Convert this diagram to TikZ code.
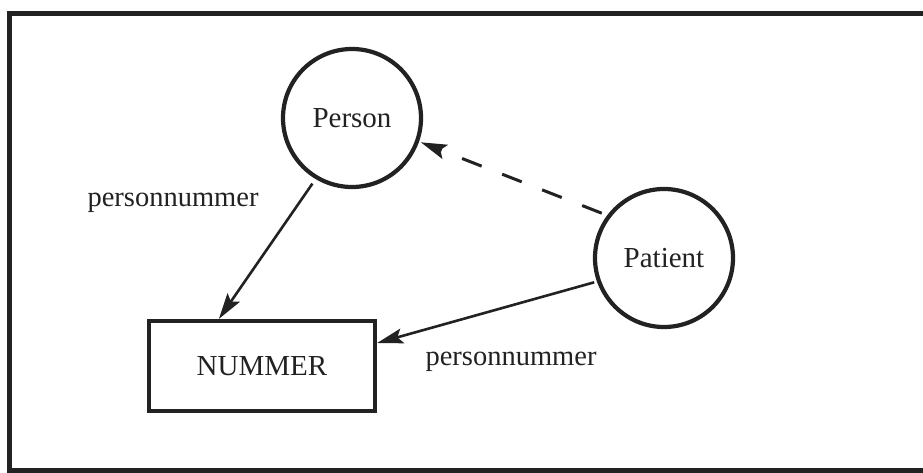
\documentclass[tikz,border=0pt]{standalone}
\usepackage{fontspec}
\setmainfont{Liberation Serif}
\usetikzlibrary{arrows.meta}
\definecolor{ink}{HTML}{222222}
\begin{document}
\begin{tikzpicture}[x=1pt,y=-1pt,
  entity/.style={circle,draw=ink,line width=4.2pt,minimum size=138pt,inner sep=0pt,
    font=\fontsize{29}{34}\selectfont,text=ink},
  table/.style={rectangle,draw=ink,line width=4.2pt,minimum width=226pt,minimum height=90pt,
    inner sep=0pt,font=\fontsize{29}{34}\selectfont,text=ink},
  label/.style={font=\fontsize{28.5}{34}\selectfont,text=ink,inner sep=0pt},
  link/.style={draw=ink,line width=2.6pt,-{Stealth[length=26pt,width=15pt,inset=5pt]}},
  isa/.style={link,line width=3pt,dash pattern=on 21pt off 22pt}]
  \useasboundingbox (0,0) rectangle (923,473);
  \fill[white] (0,0) rectangle (923,473);
  % open frame: top, left and bottom rules
  \draw[ink,line width=5pt] (923,14) -- (9,14) -- (9,470) -- (923,470);

  \node[entity] (person) at (352,118) {Person};
  \node[entity] (patient) at (664,258) {Patient};
  \node[table] (nummer) at (262,366) {NUMMER};

  \node[label,anchor=base] (lab1) at (173,207) {personnummer};
  \node[label,anchor=base] (lab2) at (511,365) {personnummer};

  \draw[link] ([shift={(-4pt,-4pt)}]person.240) -- ([xshift=72pt]nummer.north west);
  \draw[link] ([xshift=-3pt]patient.200) -- ([yshift=23pt]nummer.east);
  \draw[isa] ([shift={(-4pt,4pt)}]patient.145) -- ([xshift=2pt]person.-20);
\end{tikzpicture}
\end{document}
